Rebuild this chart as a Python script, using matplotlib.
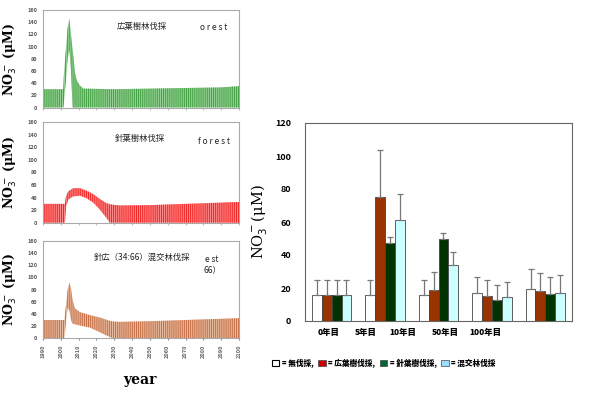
import matplotlib
matplotlib.use("Agg")
import matplotlib.pyplot as plt
from matplotlib.patches import Patch
import numpy as np

plt.rcParams['font.family'] = ['Noto Sans CJK JP', 'DejaVu Sans']
plt.rcParams['hatch.linewidth'] = 0.7

# ---------------- time series envelopes (left panels) ----------------
bl_years = [1990, 2001.4, 2001.8, 2002.9, 2003.8, 2004.8, 2005.7, 2006.6, 2007.0, 2007.9, 2008.9, 2010.7, 2012.6, 2030, 2050, 2070, 2090, 2100]
bl_upper = [30, 30, 58, 97, 130, 146, 120, 95, 86, 58, 45, 36, 31, 30, 31, 32, 33, 35]
bl_lower = [0, 0, 10, 45, 80, 95, 60, 0, 0, 0, 0, 0, 0, 0, 0, 0, 0, 0]

cf_years = [1990, 2002.3, 2002.9, 2004.2, 2007.0, 2010.7, 2014.5, 2018.2, 2022.0, 2025.7, 2027.5, 2029.4, 2033.2, 2050, 2070, 2090, 2100]
cf_upper = [30, 30, 42, 50, 55, 55, 51, 45.5, 37.6, 31, 29.5, 28.6, 27.5, 28, 30, 32, 33]
cf_lower = [0, 0, 25, 37, 42, 43, 39, 32, 20.6, 7.4, 0, 0, 0, 0, 0, 0, 0]

mx_years = [1990, 2002.0, 2003.0, 2003.8, 2004.8, 2005.7, 2006.6, 2007.9, 2010.7, 2016.3, 2021.9, 2027.5, 2029.4, 2033.2, 2050, 2070, 2090, 2100]
mx_upper = [30, 30, 57, 79, 91, 82, 63, 49, 43, 38, 34, 28.6, 27.5, 27, 28, 30, 32, 33]
mx_lower = [0, 0, 30, 50, 46, 30, 24, 23, 21, 17.6, 10, 2, 0, 0, 0, 0, 0, 0]

xticks_years = list(range(1990, 2101, 10))

# ---------------- bar chart data ----------------
periods = ['0年目', '5年目', '10年目', '50年目', '100年目']
none_cut = [15.5, 15.5, 15.5, 16.8, 19.5]
none_err = [9.5, 9.5, 9.5, 10, 12.3]
broad_cut = [15.5, 75, 18.5, 15.3, 18]
broad_err = [9.5, 28.5, 11.5, 9.3, 10.8]
conif_cut = [15.5, 47, 49.5, 13, 16.3]
conif_err = [9.5, 4, 4, 8.8, 10.2]
mixed_cut = [15.5, 61, 34.2, 14.5, 17.2]
mixed_err = [9.5, 16, 7.5, 8.9, 10.8]
legend_labels = ['= 無伐採,', '= 広葉樹伐採,', '= 針葉樹伐採,', '= 混交林伐採']

W, H = 595, 397
fig = plt.figure(figsize=(W / 100, H / 100), dpi=100)

def box(l, t, r, b):
    return [l / W, 1 - b / H, (r - l) / W, (b - t) / H]

panels = [
    (box(43, 10, 239, 107.5), bl_years, bl_upper, bl_lower, '#96d296', '#43a043',
     [('広葉樹林伐採', 142, 26), ('o r e s t', 214, 27)]),
    (box(43, 122.3, 239, 222.7), cf_years, cf_upper, cf_lower, '#ff8a8a', '#f02424',
     [('針葉樹林伐採', 140, 138), ('f o r e s t', 214, 141)]),
    (box(43, 240.7, 239, 338.3), mx_years, mx_upper, mx_lower, '#e8bca0', '#c46c44',
     [('針広（34:66）混交林伐採', 142, 257), ('e st', 212, 259), ('66）', 212, 270)]),
]

for i, (pos, yrs, up, lo, fc, hc, texts) in enumerate(panels):
    ax = fig.add_axes(pos)
    ax.fill_between(yrs, lo, up, facecolor=fc, edgecolor=hc, hatch='||||||||', linewidth=0)
    ax.set_xlim(1990, 2100)
    ax.set_ylim(0, 160)
    ax.set_yticks(range(0, 161, 20))
    ax.tick_params(axis='y', labelsize=4, length=0, pad=4, colors='#555555')
    for lab in ax.get_yticklabels():
        lab.set_fontweight('bold')
    ax.set_xticks(xticks_years)
    if i == 2:
        ax.set_xticklabels([str(y) for y in xticks_years], rotation=90, fontsize=4,
                           fontweight='bold', color='#666666')
        ax.tick_params(axis='x', length=1.5, pad=3, colors='#888888')
        for lab in ax.get_xticklabels():
            lab.set_color('#666666')
    else:
        ax.set_xticklabels([])
        ax.tick_params(axis='x', length=1.5, colors='#bbbbbb')
    for s in ax.spines.values():
        s.set_color('#aaaaaa')
        s.set_linewidth(0.8)
    ax.set_ylabel('NO$_3^-$ (μM)', fontsize=9, family='DejaVu Serif', fontweight='bold', labelpad=6)
    for txt, x, y in texts:
        fig.text(x / W, 1 - y / H, txt, fontsize=6, ha='center', va='center', color='#222222')

fig.text(140 / W, 1 - 380 / H, 'year', fontsize=10, family='DejaVu Serif', fontweight='bold',
         ha='center', va='center')

# ---------------- bar chart ----------------
bx = fig.add_axes(box(305, 123, 572, 321))
x = np.arange(len(periods))
w = 0.184
series = [(none_cut, none_err, 'white'), (broad_cut, broad_err, '#993300'),
          (conif_cut, conif_err, '#003300'), (mixed_cut, mixed_err, '#ccffff')]
for k, (vals, errs, col) in enumerate(series):
    bx.bar(x + (k - 1.5) * w, vals, w, color=col, edgecolor='#444444', linewidth=0.6,
           yerr=[np.zeros(len(errs)), errs], error_kw=dict(ecolor='#777777', elinewidth=0.9,
                                                          capsize=2.5, capthick=0.9))
bx.set_xlim(-0.5, 4.5)
bx.set_ylim(0, 120)
bx.set_yticks(range(0, 121, 20))
bx.set_xticks([])
bx.tick_params(axis='y', labelsize=6.5, length=0, pad=10)
for lab in bx.get_yticklabels():
    lab.set_fontweight('bold')
for s in bx.spines.values():
    s.set_color('#666666')
    s.set_linewidth(0.8)
bx.set_ylabel('NO$_3^-$(μM)', fontsize=10.5, family='DejaVu Serif', labelpad=4)

label_x = [329, 366, 403, 445, 485]
for lab, px in zip(periods, label_x):
    fig.text(px / W, 1 - 333 / H, lab, fontsize=6, fontweight='heavy', ha='center', va='center')

handles = [Patch(facecolor='white', edgecolor='black', linewidth=0.8),
           Patch(facecolor='#cc0000', edgecolor='#444444', linewidth=0.5),
           Patch(facecolor='#006633', edgecolor='#444444', linewidth=0.5),
           Patch(facecolor='#99ddff', edgecolor='#444444', linewidth=0.5)]
leg = fig.legend(handles, legend_labels, loc='center left', bbox_to_anchor=(268 / W, 1 - 363 / H),
                 ncol=4, frameon=False, fontsize=5.5, handlelength=1.0, handleheight=0.9,
                 handletextpad=0.3, columnspacing=0.6, borderpad=0)
for t in leg.get_texts():
    t.set_fontweight('heavy')

fig.savefig('out.png', dpi=100)
